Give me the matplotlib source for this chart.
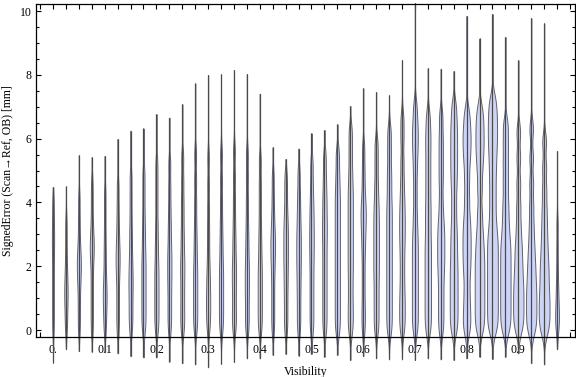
import matplotlib
matplotlib.use("Agg")
import matplotlib.pyplot as plt
import numpy as np
from matplotlib import mlab
from matplotlib.ticker import MultipleLocator, FixedLocator, FixedFormatter

# ---- data ----
visibility = [round(0.025 * k, 3) for k in range(40)]

top_values = [4.48, 4.50, 5.48, 5.42, 5.46, 5.99, 6.25, 6.32, 6.77, 6.66,
              7.08, 7.73, 7.99, 8.01, 8.15, 8.02, 7.41, 5.73, 5.36, 5.69,
              6.17, 6.27, 6.45, 7.02, 7.58, 7.46, 7.36, 8.46, 10.25, 8.21,
              8.19, 8.12, 9.84, 9.14, 9.90, 9.18, 8.46, 9.77, 9.61, 5.61]

bottom_values = [-1.02, -0.60, -0.66, -0.68, -0.70, -0.73, -0.82, -0.86, -0.86, -0.99,
                 -1.04, -1.08, -1.17, -1.06, -1.00, -0.89, -0.89, -0.78, -0.75, -0.80,
                 -0.75, -0.84, -0.78, -0.94, -0.82, -0.89, -0.92, -0.92, -0.94, -0.89,
                 -0.92, -0.94, -0.89, -0.84, -0.91, -0.84, -0.73, -1.04, -1.08, -0.60]

samples = [
    [0.0, 0.4, 0.8, 1.2, 1.6, 2.0, 2.4, 2.7, 3.0, 3.3, 3.7, 4.1],
    [0.0, 0.3, 0.6, 0.85, 1.05, 1.25, 1.45, 1.7, 2.0, 2.4, 2.9, 3.4],
    [0.0, 0.4, 0.8, 1.2, 1.5, 1.75, 1.95, 2.15, 2.35, 2.6, 3.0, 3.5, 4.1],
    [0.0, 0.4, 0.8, 1.2, 1.6, 2.0, 2.3, 2.5, 2.7, 2.9, 3.2, 3.6, 4.1, 4.6],
    [0.0, 0.3, 0.6, 0.85, 1.05, 1.25, 1.5, 1.8, 2.2, 2.6, 3.1, 3.7, 4.3],
    [0.0, 0.4, 0.8, 1.2, 1.6, 1.9, 2.15, 2.4, 2.65, 3.0, 3.4, 3.9, 4.5],
    [0.0, 0.3, 0.6, 0.9, 1.2, 1.45, 1.7, 2.0, 2.3, 2.7, 3.1, 3.6, 4.2, 4.8],
    [0.0, 0.3, 0.6, 0.9, 1.2, 1.5, 1.8, 2.1, 2.4, 2.8, 3.2, 3.7, 4.3, 4.9],
    [0.0, 0.3, 0.6, 0.9, 1.2, 1.5, 1.8, 2.1, 2.5, 2.9, 3.4, 4.0, 4.6, 5.2],
    [0.0, 0.35, 0.7, 1.05, 1.4, 1.7, 2.0, 2.3, 2.6, 3.0, 3.4, 3.9, 4.5, 5.2],
    [0.0, 0.3, 0.65, 1.0, 1.35, 1.7, 2.0, 2.3, 2.7, 3.1, 3.6, 4.1, 4.7, 5.4],
    [0.0, 0.3, 0.6, 0.9, 1.2, 1.5, 1.8, 2.1, 2.5, 2.9, 3.4, 4.0, 4.7, 5.5],
    [0.0, 0.3, 0.55, 0.8, 1.05, 1.3, 1.6, 1.9, 2.3, 2.8, 3.3, 3.9, 4.6, 5.4],
    [0.0, 0.3, 0.6, 0.9, 1.2, 1.5, 1.8, 2.1, 2.5, 2.9, 3.4, 4.0, 4.7, 5.5],
    [0.0, 0.3, 0.6, 0.95, 1.3, 1.6, 1.9, 2.2, 2.6, 3.0, 3.5, 4.1, 4.8, 5.6],
    [0.0, 0.3, 0.65, 1.0, 1.3, 1.6, 1.9, 2.2, 2.6, 3.0, 3.5, 4.1, 4.8, 5.5],
    [0.0, 0.3, 0.6, 0.9, 1.2, 1.5, 1.8, 2.1, 2.5, 2.9, 3.4, 4.0, 4.6, 5.3],
    [0.0, 0.4, 0.8, 1.2, 1.6, 1.95, 2.25, 2.5, 2.75, 3.0, 3.3, 3.7, 4.2, 4.8],
    [0.0, 0.4, 0.8, 1.2, 1.55, 1.9, 2.2, 2.5, 2.8, 3.1, 3.4, 3.8, 4.3, 4.8],
    [0.0, 0.4, 0.8, 1.2, 1.55, 1.9, 2.2, 2.5, 2.8, 3.1, 3.45, 3.85, 4.3, 4.9],
    [0.0, 0.4, 0.8, 1.2, 1.6, 2.0, 2.35, 2.7, 3.0, 3.35, 3.7, 4.1, 4.6, 5.2],
    [0.0, 0.4, 0.8, 1.2, 1.6, 2.0, 2.4, 2.8, 3.15, 3.5, 3.9, 4.3, 4.8, 5.4],
    [0.0, 0.4, 0.8, 1.2, 1.6, 2.0, 2.4, 2.8, 3.2, 3.6, 4.0, 4.4, 4.9, 5.5],
    [0.0, 0.4, 0.8, 1.25, 1.7, 2.1, 2.5, 2.9, 3.3, 3.7, 4.1, 4.5, 5.0, 5.6, 6.2],
    [0.0, 0.4, 0.8, 1.3, 1.8, 2.3, 2.7, 3.05, 3.35, 3.6, 3.85, 4.15, 4.6, 5.1, 5.7],
    [0.0, 0.4, 0.8, 1.2, 1.6, 1.95, 2.3, 2.65, 3.0, 3.35, 3.7, 4.1, 4.6, 5.2, 5.8],
    [0.0, 0.4, 0.8, 1.2, 1.6, 2.0, 2.4, 2.8, 3.2, 3.6, 4.0, 4.5, 5.0, 5.6, 6.2],
    [0.0, 0.35, 0.7, 1.05, 1.45, 1.9, 2.35, 2.75, 3.1, 3.45, 3.8, 4.2, 4.7, 5.3, 6.0, 6.6],
    [0.0, 0.35, 0.7, 1.05, 1.4, 1.75, 2.1, 2.45, 2.8, 3.2, 3.7, 4.3, 4.9, 5.4, 5.8, 6.15, 6.5, 7.0],
    [0.0, 0.35, 0.7, 1.05, 1.4, 1.75, 2.1, 2.45, 2.8, 3.2, 3.6, 4.0, 4.45, 4.9, 5.35, 5.8, 6.2, 6.7],
    [0.0, 0.4, 0.8, 1.2, 1.6, 1.95, 2.25, 2.55, 2.85, 3.15, 3.5, 4.0, 4.6, 5.1, 5.6, 6.1, 6.7],
    [0.0, 0.35, 0.7, 1.05, 1.4, 1.75, 2.1, 2.5, 2.9, 3.35, 3.9, 4.45, 4.9, 5.3, 5.7, 6.1, 6.5, 7.0],
    [0.0, 0.35, 0.75, 1.2, 1.7, 2.1, 2.45, 2.8, 3.15, 3.55, 4.1, 4.7, 5.25, 5.65, 6.0, 6.35, 6.8],
    [0.0, 0.3, 0.6, 0.9, 1.2, 1.5, 1.8, 2.1, 2.4, 2.75, 3.15, 3.7, 4.4, 5.0, 5.45, 5.8, 6.15, 6.5, 6.9],
    [0.0, 0.3, 0.6, 0.9, 1.2, 1.5, 1.8, 2.1, 2.4, 2.7, 3.0, 3.4, 3.9, 4.4, 4.9, 5.35, 5.75, 6.1, 6.45, 6.8, 7.2],
    [0.0, 0.3, 0.6, 0.9, 1.2, 1.5, 1.8, 2.1, 2.4, 2.7, 3.05, 3.5, 4.0, 4.6, 5.2, 5.8, 6.4],
    [0.0, 0.25, 0.5, 0.75, 1.0, 1.25, 1.5, 1.8, 2.1, 2.45, 2.8, 3.3, 3.9, 4.6, 5.4, 6.2],
    [-0.05, 0.2, 0.45, 0.7, 0.95, 1.2, 1.45, 1.75, 2.05, 2.4, 2.8, 3.3, 3.9, 4.6, 5.4, 6.3],
    [-0.05, 0.2, 0.45, 0.7, 0.95, 1.2, 1.5, 1.8, 2.1, 2.45, 2.85, 3.3, 3.8, 4.4, 5.1, 5.9],
    [0.0, 0.2, 0.4, 0.6, 0.85, 1.15, 1.5, 2.0, 2.6, 3.3],
]

# peak half-width of each violin, in pixels
peak_halfwidth_px = [1.1, 1.7, 2.0, 2.0, 1.9, 2.0, 2.1, 2.1, 2.1, 2.1,
                     2.1, 2.1, 2.1, 2.1, 2.1, 2.1, 2.1, 2.3, 2.3, 2.3,
                     2.3, 2.4, 2.6, 2.6, 2.6, 2.8, 2.8, 2.8, 3.0, 3.2,
                     3.6, 3.9, 4.1, 4.8, 5.4, 5.2, 5.2, 5.2, 5.4, 1.9]

xtick_values = [0.0, 0.1, 0.2, 0.3, 0.4, 0.5, 0.6, 0.7, 0.8, 0.9]
xtick_labels = ["0.", "0.1", "0.2", "0.3", "0.4", "0.5", "0.6", "0.7", "0.8", "0.9"]
ytick_values = [0, 2, 4, 6, 8, 10]

# ---- figure ----
W, H = 576, 377
fig = plt.figure(figsize=(W / 100, H / 100), dpi=100)
left, right, bottom, top = 36, 575, 337, 4
ax = fig.add_axes([left / W, 1 - bottom / H, (right - left) / W, (bottom - top) / H])
ax.set_xlim(-0.0329, 1.0097)
ax.set_ylim(-0.219, 10.22)

px_per_x = (right - left) / (1.0097 + 0.0329)
kernel_mm = 0.3

vpstats = []
for d, lo, hi in zip(samples, bottom_values, top_values):
    arr = np.asarray(d, float)
    kde = mlab.GaussianKDE(arr, bw_method=kernel_mm / np.std(arr, ddof=1))
    coords = np.linspace(lo, hi, 400)
    vals = kde.evaluate(coords)
    vpstats.append(dict(coords=coords, vals=vals, mean=np.mean(arr),
                        median=np.median(arr), min=lo, max=hi))

widths = [2 * h / px_per_x for h in peak_halfwidth_px]
parts = ax.violin(vpstats, positions=visibility, widths=widths,
                  showmeans=False, showextrema=False, showmedians=False)
for b in parts["bodies"]:
    b.set_facecolor("#cdd4f5")
    b.set_edgecolor("#62626e")
    b.set_alpha(1.0)
    b.set_linewidth(0.7)
    b.set_clip_on(False)
    b.set_zorder(2)

wl = ax.vlines(visibility, bottom_values, top_values, colors="#4a4a4a",
               linewidth=0.9, zorder=3)
wl.set_clip_on(False)

# ---- axes styling ----
font = "Liberation Serif"
ax.xaxis.set_major_locator(FixedLocator(xtick_values))
ax.xaxis.set_major_formatter(FixedFormatter(xtick_labels))
ax.xaxis.set_minor_locator(MultipleLocator(0.025))
ax.yaxis.set_major_locator(FixedLocator(ytick_values))
ax.yaxis.set_minor_locator(MultipleLocator(0.5))
ax.tick_params(which="both", direction="in", top=True, right=True,
               labelsize=8.5, color="black", width=0.8)
ax.tick_params(which="major", length=3.5)
ax.tick_params(axis="x", which="major", pad=5)
ax.tick_params(axis="y", which="major", pad=3)
ax.tick_params(which="minor", length=2.2)
ax.tick_params(axis="x", which="minor", length=3.5)
for lab in ax.get_xticklabels() + ax.get_yticklabels():
    lab.set_fontfamily(font)
for s in ax.spines.values():
    s.set_linewidth(0.9)
    s.set_zorder(4)

ax.set_xlabel("Visibility", fontsize=8.5, family=font, labelpad=7)
ax.set_ylabel("SignedError (Scan\u2192Ref, OB) [mm]", fontsize=8.5,
              family=[font, "DejaVu Sans"], labelpad=4)

fig.savefig("out.png", dpi=100)
